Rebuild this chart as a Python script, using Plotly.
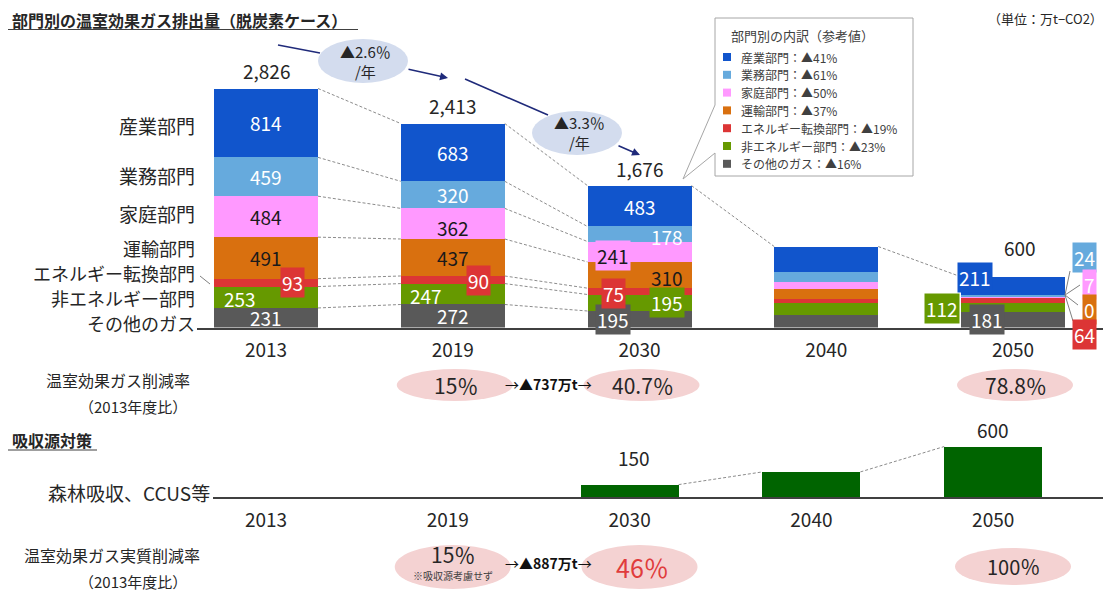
import plotly.graph_objects as go

PAGE_W, PAGE_H = 1111, 591
OFF = 8  # default body margin of the html page
W, H = PAGE_W - OFF, PAGE_H - OFF
FONT = "Noto Sans CJK JP"
TXT = "#262626"

# ---------------- data ----------------
years = ["2013", "2019", "2030", "2040", "2050"]
industry = [814, 683, 483, 300, 211]
commercial = [459, 320, 178, 118, 24]
household = [484, 362, 241, 86, 7]
transport = [491, 437, 310, 111, 0]
energy_conv = [93, 90, 75, 54, 64]
non_energy = [253, 247, 195, 142, 112]
other_gas = [231, 272, 195, 146, 181]
totals = [2826, 2413, 1676, None, 600]
legend_cuts = [41, 61, 50, 37, 19, 23, 16]
sink_years = ["2030", "2040", "2050"]
sink_values = [150, 300, 600]
sink_labels = [150, None, 600]
rate_years = ["2019", "2030", "2050"]
gross_rates = ["15％", "40.7％", "78.8％"]
net_rates = ["15％", "46％", "100％"]
cagr_labels = ["▲2.6％", "▲3.3％"]
gap_gross = "▲737万t"
gap_net = "▲887万t"

# ---------------- styles ----------------
names_top_down = ["産業部門", "業務部門", "家庭部門", "運輸部門", "エネルギー転換部門", "非エネルギー部門", "その他のガス"]
series = {
    "産業部門": industry, "業務部門": commercial, "家庭部門": household, "運輸部門": transport,
    "エネルギー転換部門": energy_conv, "非エネルギー部門": non_energy, "その他のガス": other_gas,
}
colors = {
    "産業部門": "#1155CC", "業務部門": "#66AADD", "家庭部門": "#FF99FF", "運輸部門": "#D9700F",
    "エネルギー転換部門": "#DC3535", "非エネルギー部門": "#669900", "その他のガス": "#595959",
}
label_color = {k: "white" for k in colors}
label_color["家庭部門"] = "#1a1a1a"
label_color["運輸部門"] = "#1a1a1a"
stack_order = names_top_down[::-1]


def X(px):
    return (px - OFF) / W


def Y(py):
    return 1 - (py - OFF) / H


def T(px, py, text, size, color=TXT, xanchor="center", **kw):
    d = dict(x=X(px), y=Y(py), xref="paper", yref="paper", xanchor=xanchor, yanchor="middle",
             text=text, showarrow=False, font=dict(size=size, color=color, family=FONT))
    d.update(kw)
    return d


TOP_BASE, TOP_CEIL = 327.5, 60
BOT_BASE, BOT_CEIL = 497.3, 420
PXU = 0.0846
top_step, top_c0 = 186.75, 266.0
bot_step, bot_c0 = 181.8, 266.0
TOP_L, BOT_L, RIGHT = 197, 213, 1108
BW_TOP, BW_BOT = 104 / top_step, 98 / bot_step

fig = go.Figure()
idx = list(range(len(years)))

for name in stack_order:
    fig.add_trace(go.Bar(x=idx, y=series[name], width=BW_TOP, marker=dict(color=colors[name], line=dict(width=0)),
                         xaxis="x", yaxis="y", hoverinfo="skip", showlegend=False))

sink_idx = [years.index(y) for y in sink_years]
fig.add_trace(go.Bar(x=sink_idx, y=sink_values, width=BW_BOT, marker=dict(color="#006400", line=dict(width=0)),
                     xaxis="x2", yaxis="y2", hoverinfo="skip", showlegend=False))

# cumulative levels
cum = []
run = [0] * len(years)
for name in stack_order:
    run = [a + b for a, b in zip(run, series[name])]
    cum.append(run[:])

hw = BW_TOP / 2
cx, cy = [], []
for i in range(len(years) - 1):
    levels = cum if i < 2 else [cum[-1]]
    for lev in levels:
        cx += [i + hw, i + 1 - hw, None]
        cy += [lev[i], lev[i + 1], None]
fig.add_trace(go.Scatter(x=cx, y=cy, mode="lines", line=dict(color="#8c8c8c", width=1, dash="3px,2px"),
                         xaxis="x", yaxis="y", hoverinfo="skip", showlegend=False))

hb = BW_BOT / 2
bx, by = [], []
for j in range(len(sink_idx) - 1):
    bx += [sink_idx[j] + hb, sink_idx[j + 1] - hb, None]
    by += [sink_values[j], sink_values[j + 1], None]
fig.add_trace(go.Scatter(x=bx, y=by, mode="lines", line=dict(color="#8c8c8c", width=1, dash="3px,2px"),
                         xaxis="x2", yaxis="y2", hoverinfo="skip", showlegend=False))

ann = []
shapes = []

# segment labels
overrides = {
    (0, "エネルギー転換部門"): (26, 0, True),
    (0, "非エネルギー部門"): (-26, -1, False),
    (1, "家庭部門"): (0, -4, False),
    (1, "エネルギー転換部門"): (26, -1, True),
    (1, "非エネルギー部門"): (-27, -1, False),
    (2, "業務部門"): (27, -2, False),
    (2, "家庭部門"): (-27, -4, True),
    (2, "運輸部門"): (27, -2, False),
    (2, "エネルギー転換部門"): (-26, -2, True),
    (2, "非エネルギー部門"): (27, 0, True),
    (2, "その他のガス"): (-27, 0, True),
    (4, "産業部門"): (-38, 8, True),
    (4, "非エネルギー部門"): (-71, -1, True),
    (4, "その他のガス"): (-26, 0, True),
}
side_2050 = ["業務部門", "家庭部門", "運輸部門", "エネルギー転換部門"]
for k, name in enumerate(stack_order):
    for i in range(len(years)):
        if i == 3 or (i == 4 and name in side_2050):
            continue
        v = series[name][i]
        base = cum[k - 1][i] if k > 0 else 0
        mid = base + v / 2
        dx, dy, boxed = overrides.get((i, name), (0, 0, False))
        a = dict(x=i, y=mid, xref="x", yref="y", text=str(v), showarrow=False, xanchor="center", yanchor="middle",
                 font=dict(size=19, color=label_color[name], family=FONT), xshift=dx, yshift=dy)
        if boxed:
            a.update(bgcolor=colors[name], borderpad=1)
        ann.append(a)

# 2050 side boxes
side_y = [258, 284, 309.5, 334.5]
for name, py in zip(side_2050, side_y):
    ann.append(T(1097, py, str(series[name][4]), 19, "white", xanchor="right",
                 bgcolor=colors[name], borderpad=1))
for ex, ey in [(1070, 271), (1080, 285), (1078, 305), (1073, 321)]:
    shapes.append(dict(type="line", xref="paper", yref="paper", x0=X(1065), y0=Y(295), x1=X(ex), y1=Y(ey),
                       line=dict(color="#7f7f7f", width=1)))

# totals
for i, t in enumerate(totals):
    if t is None:
        continue
    extra = dict(xshift=7, yshift=14) if i == 4 else dict(yshift=2)
    ann.append(dict(x=i, y=t, xref="x", yref="y", text=f"{t:,}", showarrow=False, xanchor="center",
                    yanchor="bottom", font=dict(size=19, color=TXT, family=FONT), **extra))

# sink labels
for xi, v, lab in zip(sink_idx, sink_values, sink_labels):
    if lab is None:
        continue
    ann.append(dict(x=xi, y=v, xref="x2", yref="y2", text=str(lab), showarrow=False, xanchor="center",
                    yanchor="bottom", yshift=12 if v < 300 else 2, xshift=4 if v < 300 else 0,
                    font=dict(size=19, color=TXT, family=FONT)))

# category labels (left)
cat_pos = {"産業部門": (126, 19), "業務部門": (175, 19), "家庭部門": (213, 19), "運輸部門": (248, 18),
           "エネルギー転換部門": (273, 18), "非エネルギー部門": (298, 18), "その他のガス": (323, 18)}
for name in names_top_down:
    py, sz = cat_pos[name]
    ann.append(T(197, py, name, sz, xanchor="right"))
shapes.append(dict(type="line", xref="paper", yref="paper", x0=X(200), y0=Y(276), x1=X(210), y1=Y(284),
                   line=dict(color="#7f7f7f", width=1)))

# titles
ann.append(T(10, 20, "<b>部門別の温室効果ガス排出量（脱炭素ケース）</b>", 16, xanchor="left"))
shapes.append(dict(type="line", xref="paper", yref="paper", x0=X(8), y0=Y(29.5), x1=X(358), y1=Y(29.5),
                   line=dict(color="#404040", width=1.2)))
ann.append(T(1105, 19, "（単位：万t−CO2）", 13, xanchor="right"))
ann.append(T(10, 440, "<b>吸収源対策</b>", 16, xanchor="left"))
shapes.append(dict(type="line", xref="paper", yref="paper", x0=X(8), y0=Y(450), x1=X(97), y1=Y(450),
                   line=dict(color="#404040", width=1.2)))
ann.append(T(212, 492, "森林吸収、CCUS等", 19, xanchor="right"))

# CAGR ellipses and arrows
NAVY = "#1F2A7A"
for (cxp, cyp), lab in zip([(363, 61), (577, 133)], cagr_labels):
    shapes.append(dict(type="circle", xref="paper", yref="paper", x0=X(cxp - 45), x1=X(cxp + 45),
                       y0=Y(cyp + 22), y1=Y(cyp - 22), fillcolor="#D3DCEE", line=dict(width=0), layer="below"))
    ann.append(T(cxp + 2, cyp, f"{lab}<br>/年", 15, align="center"))
for x0, y0, x1, y1 in [(278, 45, 320, 53), (465, 79, 548, 115)]:
    shapes.append(dict(type="line", xref="paper", yref="paper", x0=X(x0), y0=Y(y0), x1=X(x1), y1=Y(y1),
                       line=dict(color=NAVY, width=1.6)))
for tx, ty, hx, hy in [(407, 69, 448, 78), (617, 145, 640, 155)]:
    ann.append(dict(x=X(hx), y=Y(hy), xref="paper", yref="paper", ax=tx - hx, ay=ty - hy, axref="pixel",
                    ayref="pixel", showarrow=True, arrowhead=2, arrowsize=1, arrowwidth=1.6, arrowcolor=NAVY, text=""))

# legend box with callout
path = (f"M {X(715)},{Y(18)} L {X(913)},{Y(18)} L {X(913)},{Y(176)} L {X(715)},{Y(176)} "
        f"L {X(715)},{Y(153)} L {X(683)},{Y(179)} L {X(715)},{Y(105)} Z")
shapes.append(dict(type="path", xref="paper", yref="paper", path=path, fillcolor="white",
                   line=dict(color="#a6a6a6", width=1)))
ann.append(T(802, 36, "部門別の内訳（参考値）", 13, "#404040"))
for r, (name, pct) in enumerate(zip(names_top_down, legend_cuts)):
    ry = 57 + r * 17.8
    shapes.append(dict(type="rect", xref="paper", yref="paper", x0=X(723), x1=X(731), y0=Y(ry + 4), y1=Y(ry - 4),
                       fillcolor=colors[name], line=dict(width=0)))
    ann.append(T(739, ry, f"{name}：▲{pct}%", 12, "#404040", xanchor="left"))

# reduction-rate rows
ann.append(T(118, 380, "温室効果ガス削減率", 16))
ann.append(T(133, 406, "（2013年度比）", 15))
ann.append(T(112, 555, "温室効果ガス実質削減率", 16))
ann.append(T(133, 581, "（2013年度比）", 15))

PINK = "#F4D2D2"
ell_w = 116
for yr, txt in zip(rate_years, gross_rates):
    i = years.index(yr)
    cxp = top_c0 + top_step * i
    shapes.append(dict(type="circle", xref="paper", yref="paper", x0=X(cxp - ell_w / 2 + 2), x1=X(cxp + ell_w / 2 + 2),
                       y0=Y(401), y1=Y(369), fillcolor=PINK, line=dict(width=0), layer="below"))
    ann.append(dict(x=i, y=Y(385), xref="x", yref="paper", text=txt, showarrow=False, xshift=3,
                    xanchor="center", yanchor="middle", font=dict(size=21, color=TXT, family=FONT)))
ann.append(T(548, 384, f"→<b>{gap_gross}</b>→", 14, "#111111"))

for k, (yr, txt) in enumerate(zip(rate_years, net_rates)):
    i = years.index(yr)
    cxp = top_c0 + top_step * i
    shapes.append(dict(type="circle", xref="paper", yref="paper", x0=X(cxp - ell_w / 2), x1=X(cxp + ell_w / 2),
                       y0=Y(589 if k < 2 else 585), y1=Y(545 if k < 2 else 548), fillcolor=PINK,
                       line=dict(width=0), layer="below"))
    if k == 0:
        ann.append(dict(x=i, y=Y(554), xref="x", yref="paper", text=txt, showarrow=False, xanchor="center",
                        yanchor="middle", font=dict(size=21, color=TXT, family=FONT)))
        ann.append(dict(x=i, y=Y(575), xref="x", yref="paper", text="※吸収源考慮せず", showarrow=False,
                        xanchor="center", yanchor="middle", font=dict(size=10, color="#404040", family=FONT)))
    elif k == 1:
        ann.append(dict(x=i, y=Y(567), xref="x", yref="paper", text=txt, showarrow=False, xshift=3,
                        xanchor="center", yanchor="middle", font=dict(size=25, color="#E03C3C", family=FONT)))
    else:
        ann.append(dict(x=i, y=Y(566), xref="x", yref="paper", text=txt, showarrow=False, xanchor="center",
                        yanchor="middle", font=dict(size=20, color=TXT, family=FONT)))
ann.append(T(548, 563, f"→<b>{gap_net}</b>→", 14, "#111111"))

axis_common = dict(showgrid=False, zeroline=False, showline=True, linecolor="#404040", linewidth=1.5,
                   ticks="", tickfont=dict(size=19, color=TXT, family=FONT), ticklabelstandoff=5)

fig.update_layout(
    width=W, height=H, autosize=False, margin=dict(l=0, r=0, t=0, b=0),
    paper_bgcolor="white", plot_bgcolor="rgba(0,0,0,0)", barmode="stack", bargap=0,
    font=dict(family=FONT, color=TXT), showlegend=False,
    xaxis=dict(domain=[X(TOP_L), X(RIGHT)], range=[(TOP_L - top_c0) / top_step, (RIGHT - top_c0) / top_step],
               tickvals=idx, ticktext=years, anchor="y", **axis_common),
    yaxis=dict(domain=[Y(TOP_BASE), Y(TOP_CEIL)], range=[0, (TOP_BASE - TOP_CEIL) / PXU], visible=False,
               anchor="x"),
    xaxis2=dict(domain=[X(BOT_L), X(RIGHT)], range=[(BOT_L - bot_c0) / bot_step, (RIGHT - bot_c0) / bot_step],
                tickvals=idx, ticktext=years, anchor="y2", **axis_common),
    yaxis2=dict(domain=[Y(BOT_BASE), Y(BOT_CEIL)], range=[0, (BOT_BASE - BOT_CEIL) / PXU], visible=False,
                anchor="x2"),
    annotations=ann, shapes=shapes,
)

fig.write_html("out.html")
